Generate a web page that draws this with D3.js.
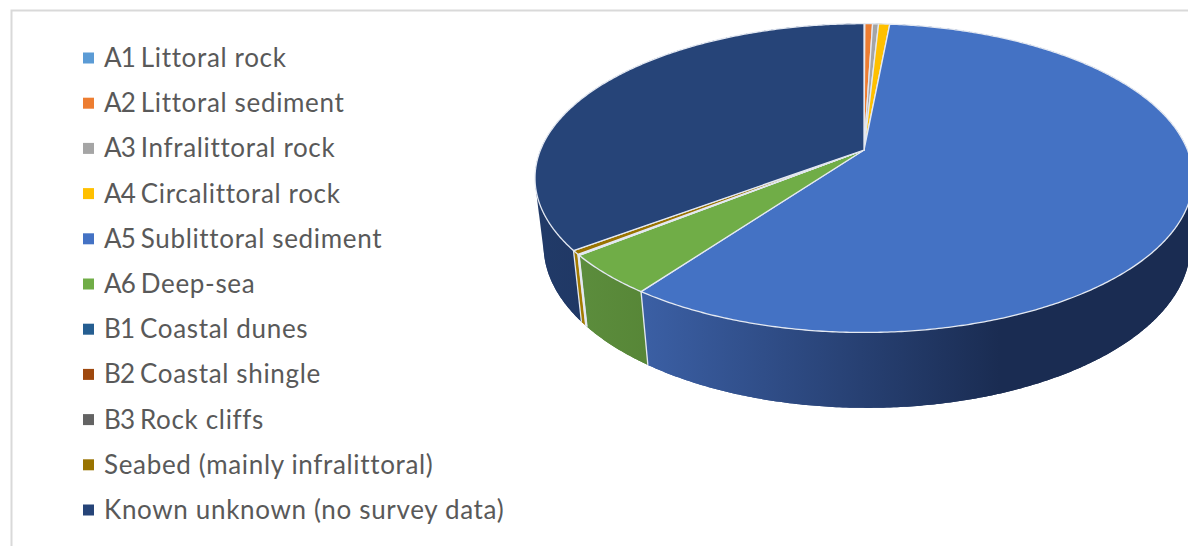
<!DOCTYPE html>
<html>
<head>
<meta charset="utf-8">
<script src="https://cdn.jsdelivr.net/npm/d3@7"></script>
<style>
  html, body { margin: 0; padding: 0; background: #fff; overflow: hidden; }
  svg { display: block; }
  text { font-family: Lato, "Open Sans", sans-serif; }
</style>
</head>
<body>
<svg id="chart" width="1188" height="546"></svg>
<script>
// Seabed habitat shares, percent of the surveyed area
const categories = [
  "A1 Littoral rock", "A2 Littoral sediment", "A3 Infralittoral rock",
  "A4 Circalittoral rock", "A5 Sublittoral sediment", "A6 Deep-sea",
  "B1 Coastal dunes", "B2 Coastal shingle", "B3 Rock cliffs",
  "Seabed (mainly infralittoral)", "Known unknown (no survey data)"
];
const shares = [0.05, 0.45, 0.35, 0.65, 58.5, 4.25, 0.03, 0.05, 0.03, 0.4, 35.24];
const colors = ["#5B9BD5", "#ED7D31", "#A5A5A5", "#FFC000", "#4472C4", "#70AD47",
                "#255E91", "#9E480E", "#636363", "#997300", "#264478"];
const wallLeft = ["#4d86ba", "#c9682a", "#8c8c8c", "#d9a300", "#3b5fa4", "#5f9140",
                  "#1f4f7b", "#853c0b", "#545454", "#a37b00", "#213a68"];
const wallRight = ["#4d86ba", "#c9682a", "#8c8c8c", "#d9a300", "#1a2c52", "#568536",
                   "#1f4f7b", "#853c0b", "#545454", "#a37b00", "#1e3560"];

const svg = d3.select("#chart");

// Frame of the chart area: only its top and left edges fall inside the page
svg.append("path")
  .attr("d", "M11.5,546V10.5H1188")
  .attr("fill", "none").attr("stroke", "#d9d9d9").attr("stroke-width", 2);

// Tilted disc: each rim is a circle under a perspective divide
const topRim = { cx: 864, cy: 150, rx: 323.5, ry: 149.3, k: 0.1818 };
const baseRim = { cx: 867, cy: 216, rx: 318, ry: 157, k: 0.1818 };
const project = (rim, a) => {
  const u = Math.sin(a), v = -Math.cos(a), w = 1 - rim.k * v;
  return [rim.cx + rim.rx * u / w, rim.cy + rim.ry * v / w];
};
const arcPoints = (rim, a0, a1) => {
  const n = Math.max(2, Math.ceil((a1 - a0) * 180 / Math.PI * 2));
  return d3.range(n + 1).map(i => project(rim, a0 + (a1 - a0) * i / n));
};
const outline = d3.line();

const slices = d3.pie().sort(null).value(d => d)(shares);

// Side-wall shading runs left to right across the visible front
const defs = svg.append("defs");
const gradient = defs.selectAll("linearGradient").data(slices).join("linearGradient")
  .attr("id", (d, i) => "wall" + i)
  .attr("gradientUnits", "userSpaceOnUse")
  .attr("x1", (d, i) => i === 4 ? 645 : 535).attr("x2", (d, i) => i === 4 ? 1000 : 660)
  .attr("y1", 0).attr("y2", 0);
gradient.append("stop").attr("offset", 0).attr("stop-color", (d, i) => wallLeft[i]);
gradient.append("stop").attr("offset", 1).attr("stop-color", (d, i) => wallRight[i]);

const edge = "#e4e9f2";
const wallFill = (d, i) => `url(#wall${i})`;

// Hulls of each wall supply the straight tangent edges at the disc's sides
svg.append("g").selectAll("path").data(slices).join("path")
  .attr("d", d => outline(d3.polygonHull([
    ...arcPoints(topRim, d.startAngle, d.endAngle),
    ...arcPoints(baseRim, d.startAngle, d.endAngle)
  ])) + "Z")
  .attr("fill", wallFill);

// Outer walls; the top faces then cover the hidden back half
svg.append("g").selectAll("path").data(slices).join("path")
  .attr("d", d => outline([
    ...arcPoints(topRim, d.startAngle, d.endAngle),
    ...arcPoints(baseRim, d.startAngle, d.endAngle).reverse()
  ]) + "Z")
  .attr("fill", wallFill);

// Pale seams between neighbouring walls, front half only
svg.append("g").selectAll("line")
  .data(slices.filter(d => Math.cos(d.endAngle) < 0.19))
  .join("line")
  .attr("x1", d => project(topRim, d.endAngle)[0])
  .attr("y1", d => project(topRim, d.endAngle)[1])
  .attr("x2", d => project(baseRim, d.endAngle)[0])
  .attr("y2", d => project(baseRim, d.endAngle)[1])
  .attr("stroke", edge).attr("stroke-width", 1.3);

// Top faces
svg.append("g").selectAll("path").data(slices).join("path")
  .attr("d", d => outline([[topRim.cx, topRim.cy], ...arcPoints(topRim, d.startAngle, d.endAngle)]) + "Z")
  .attr("fill", (d, i) => colors[i])
  .attr("stroke", edge).attr("stroke-width", 1.3).attr("stroke-linejoin", "round");

// Legend; habitat codes are set tighter than the names that follow them
const legendY = d3.scalePoint().domain(categories).range([58, 510]);
const legend = svg.append("g").selectAll("g").data(categories).join("g")
  .attr("transform", d => `translate(0,${legendY(d)})`);
legend.append("rect")
  .attr("x", 83).attr("y", -5.5).attr("width", 11).attr("height", 11)
  .attr("fill", (d, i) => colors[i]);
const labels = legend.append("text")
  .attr("x", 104).attr("y", 9)
  .attr("font-size", 26).attr("letter-spacing", 0.66).attr("fill", "#595959");
labels.each(function (d) {
  const code = /^[AB]\d /.exec(d);
  const label = d3.select(this);
  if (code) {
    label.append("tspan").attr("letter-spacing", -0.85).text(code[0]);
    label.append("tspan").text(d.slice(code[0].length));
  } else {
    label.text(d);
  }
});
</script>
</body>
</html>
